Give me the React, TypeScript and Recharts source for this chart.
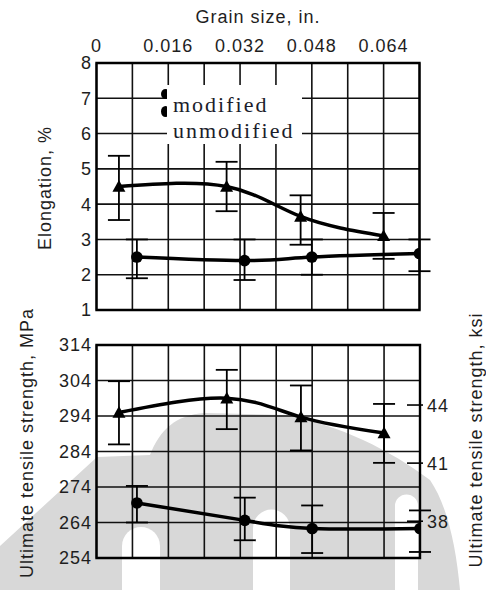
import React from 'react';
import {
  ComposedChart,
  Line,
  XAxis,
  YAxis,
  CartesianGrid,
  ErrorBar,
  ReferenceArea,
} from 'recharts';

// Grain size (in.) of each specimen group
const modifiedGrain = [0.005, 0.029, 0.0455, 0.064];
const unmodifiedGrain = [0.009, 0.033, 0.048, 0.072];

// Elongation, %
const elongModified = [4.5, 4.5, 3.65, 3.1];
const elongModifiedLow = [3.55, 3.8, 2.85, 2.45];
const elongModifiedHigh = [5.37, 5.2, 4.25, 3.75];

const elongUnmodified = [2.5, 2.4, 2.5, 2.6];
const elongUnmodifiedLow = [1.9, 1.85, 2.0, 2.1];
const elongUnmodifiedHigh = [3.0, 3.0, 3.0, 3.0];

// Ultimate tensile strength, MPa
const utsModified = [295, 299, 293.7, 289.2];
const utsModifiedLow = [286, 290.3, 284.3, 280.8];
const utsModifiedHigh = [303.8, 307, 302.6, 297.4];

const utsUnmodified = [269.5, 264.6, 262.3, 262.3];
const utsUnmodifiedLow = [264, 259, 255.4, 255.7];
const utsUnmodifiedHigh = [274.3, 271, 268.8, 267.4];

// Axis ticks
const grainTicks = [0, 0.008, 0.016, 0.024, 0.032, 0.04, 0.048, 0.056, 0.064, 0.072];
const grainLabels = ['0', '', '0.016', '', '0.032', '', '0.048', '', '0.064', ''];
const elongTicks = [1, 2, 3, 4, 5, 6, 7, 8];
const mpaTicks = [254, 264, 274, 284, 294, 304, 314];
const ksiTicks = [38, 41, 44];

const seriesNames = ['modified', 'unmodified'];

type Row = { x: number; y: number; err: [number, number] };

function buildRows(xs: number[], ys: number[], lo: number[], hi: number[]): Row[] {
  return xs.map((x, i) => ({ x, y: ys[i], err: [ys[i] - lo[i], hi[i] - ys[i]] }));
}

const topModified = buildRows(modifiedGrain, elongModified, elongModifiedLow, elongModifiedHigh);
const topUnmodified = buildRows(unmodifiedGrain, elongUnmodified, elongUnmodifiedLow, elongUnmodifiedHigh);
const botModified = buildRows(modifiedGrain, utsModified, utsModifiedLow, utsModifiedHigh);
const botUnmodified = buildRows(unmodifiedGrain, utsUnmodified, utsUnmodifiedLow, utsUnmodifiedHigh);

const W = 486;
const H = 590;
const SANS = '"Liberation Sans", Arial, Helvetica, sans-serif';
const SERIF = '"Liberation Serif", "Times New Roman", serif';
const INK = '#1e1e1e';

const textStyle = { fontFamily: SANS, fontSize: 18, fill: INK, letterSpacing: 1 } as const;

const TriangleDot = (p: any) => {
  const { cx, cy, index } = p;
  if (cx == null || cy == null) return <g key={`t${index}`} />;
  const s = 6.5;
  return (
    <polygon
      key={`t${index}`}
      points={`${cx},${cy - s} ${cx - s},${cy + s * 0.8} ${cx + s},${cy + s * 0.8}`}
      fill="#000"
    />
  );
};

const CircleDot = (p: any) => {
  const { cx, cy, index } = p;
  if (cx == null || cy == null) return <g key={`c${index}`} />;
  return <circle key={`c${index}`} cx={cx} cy={cy} r={5.8} fill="#000" />;
};

const TopGrainTick = (p: any) => {
  const { x, index } = p;
  const label = grainLabels[index];
  if (!label) return <g />;
  return (
    <text x={x} y={52} textAnchor="middle" {...textStyle}>
      {label}
    </text>
  );
};

const HiddenTick = () => <g />;

const LeftTick = (p: any) => {
  const { y, payload } = p;
  return (
    <text x={92} y={y} dy="0.36em" textAnchor="end" {...textStyle}>
      {payload.value}
    </text>
  );
};

const KsiTick = (p: any) => {
  const { x, y, payload } = p;
  return (
    <g>
      <line x1={x - 13} x2={x + 3} y1={y} y2={y} stroke="#000" strokeWidth={1.6} />
      <text x={x + 7} y={y} dy="0.36em" textAnchor="start" {...textStyle}>
        {payload.value}
      </text>
    </g>
  );
};

const AxisTitle = (p: any) => {
  const { viewBox, text, cx, cy, vertical } = p;
  const vb = viewBox || { x: 0, y: 0, width: 0, height: 0 };
  const x = cx != null ? cx : vb.x + vb.width / 2;
  const y = cy != null ? cy : vb.y + vb.height / 2;
  return (
    <text
      x={x}
      y={y}
      dy="0.36em"
      textAnchor="middle"
      transform={vertical ? `rotate(-90 ${x} ${y})` : undefined}
      {...textStyle}
    >
      {text}
    </text>
  );
};

// Series key sitting on the upper panel
const LegendBox = () => (
  <div style={{ position: 'absolute', left: 167, top: 85 }}>
    <div style={{ position: 'absolute', left: -6, top: 4, width: 9, height: 10, borderRadius: '50%', background: '#000' }} />
    <div style={{ position: 'absolute', left: -6, top: 21, width: 9, height: 11, borderRadius: '50%', background: '#000' }} />
    <div
      style={{
        position: 'relative',
        background: '#fff',
        width: 129,
        height: 52.4,
        padding: '6.6px 0 0 6px',
        fontFamily: SERIF,
        fontSize: 22,
        lineHeight: '26px',
        letterSpacing: 2,
        color: '#1b1d2b',
        whiteSpace: 'nowrap',
      }}
    >
      {seriesNames.map((n) => (
        <div key={n}>{n}</div>
      ))}
    </div>
  </div>
);

// Pale seal printed behind the lower panel
const Watermark = () => (
  <svg width={W} height={H} style={{ position: 'absolute', left: 0, top: 0 }}>
    <path
      d="M 0 546 L 97 457 L 150 455 C 160 430 175 415 205 413 L 285 415 C 340 425 390 450 430 480 C 447 505 456 545 460 590 L 0 590 Z"
      fill="#d8d8d8"
    />
    <path d="M 122 590 L 122 546 A 19 19 0 0 1 160 546 L 160 590 Z" fill="#fff" />
    <path d="M 253 590 L 253 528 A 18.5 18.5 0 0 1 290 528 L 290 590 Z" fill="#fff" />
    <path d="M 395 590 L 395 506 A 11.5 11.5 0 0 1 418 506 L 418 590 Z" fill="#fff" />
  </svg>
);

const lineProps = {
  type: 'natural' as const,
  dataKey: 'y',
  stroke: '#000',
  strokeWidth: 3.5,
  isAnimationActive: false,
  activeDot: false as const,
};

const errProps = {
  dataKey: 'err',
  direction: 'y' as const,
  width: 11,
  stroke: '#000',
  strokeWidth: 1.8,
  isAnimationActive: false,
};

export default function App() {
  return (
    <div
      style={{ position: 'fixed', left: 0, top: 0, width: W, height: H, overflow: 'hidden', background: '#fff' }}
    >
      <Watermark />

      {/* Elongation panel */}
      <div style={{ position: 'absolute', left: 0, top: 0 }}>
        <ComposedChart width={W} height={H} margin={{ top: 0, right: 66.5, bottom: 280, left: 0 }}>
          <CartesianGrid stroke="#111" strokeWidth={1.6} verticalValues={grainTicks} horizontalValues={elongTicks} />
          <XAxis
            type="number"
            dataKey="x"
            orientation="top"
            domain={[0, 0.072]}
            ticks={grainTicks}
            interval={0}
            height={63}
            axisLine={false}
            tickLine={false}
            tick={<TopGrainTick />}
            allowDataOverflow
            label={<AxisTitle text="Grain size, in." cy={17} />}
          />
          <YAxis
            type="number"
            domain={[1, 8]}
            ticks={elongTicks}
            interval={0}
            width={96.5}
            axisLine={false}
            tickLine={false}
            tick={<LeftTick />}
            allowDataOverflow
            label={<AxisTitle text="Elongation, %" cx={45} cy={188} vertical />}
          />
          <ReferenceArea x1={0} x2={0.072} y1={1} y2={8} fill="none" stroke="#000" strokeWidth={2.4} ifOverflow="visible" />
          <Line {...lineProps} name={seriesNames[0]} data={topModified} dot={TriangleDot}>
            <ErrorBar {...errProps} />
          </Line>
          <Line {...lineProps} name={seriesNames[1]} data={topUnmodified} dot={CircleDot}>
            <ErrorBar {...errProps} />
          </Line>
        </ComposedChart>
      </div>

      <LegendBox />

      {/* Tensile strength panel */}
      <div style={{ position: 'absolute', left: 0, top: 0 }}>
        <ComposedChart width={W} height={H} margin={{ top: 345, right: 0, bottom: 32, left: 0 }}>
          <CartesianGrid
            stroke="#111"
            strokeWidth={1.6}
            yAxisId="mpa"
            verticalValues={grainTicks}
            horizontalValues={mpaTicks}
          />
          <XAxis
            type="number"
            dataKey="x"
            domain={[0, 0.072]}
            ticks={grainTicks}
            interval={0}
            height={0}
            axisLine={false}
            tickLine={false}
            tick={<HiddenTick />}
            allowDataOverflow
          />
          <YAxis
            yAxisId="mpa"
            type="number"
            domain={[254, 314]}
            ticks={mpaTicks}
            interval={0}
            width={96.5}
            axisLine={false}
            tickLine={false}
            tick={<LeftTick />}
            allowDataOverflow
            label={<AxisTitle text="Ultimate tensile strength, MPa" cx={27} cy={443} vertical />}
          />
          <YAxis
            yAxisId="ksi"
            orientation="right"
            type="number"
            domain={[36.1, 47.1]}
            ticks={ksiTicks}
            interval={0}
            width={66}
            axisLine={false}
            tickLine={false}
            tickSize={0}
            tickMargin={0}
            tick={<KsiTick />}
            allowDataOverflow
            label={<AxisTitle text="Ultimate tensile strength, ksi" cx={476} cy={440} vertical />}
          />
          <ReferenceArea
            yAxisId="mpa"
            x1={0}
            x2={0.072}
            y1={254}
            y2={314}
            fill="none"
            stroke="#000"
            strokeWidth={2.4}
            ifOverflow="visible"
          />
          <Line {...lineProps} yAxisId="mpa" name={seriesNames[0]} data={botModified} dot={TriangleDot}>
            <ErrorBar {...errProps} />
          </Line>
          <Line {...lineProps} yAxisId="mpa" name={seriesNames[1]} data={botUnmodified} dot={CircleDot}>
            <ErrorBar {...errProps} />
          </Line>
        </ComposedChart>
      </div>
    </div>
  );
}
